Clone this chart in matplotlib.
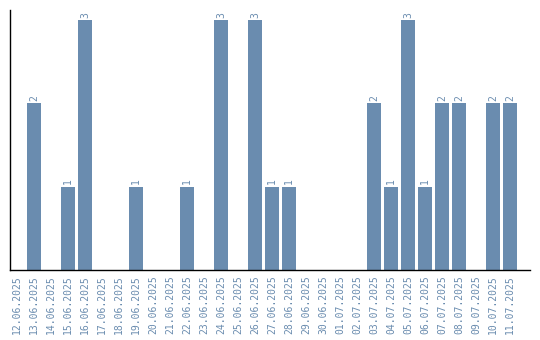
import matplotlib
matplotlib.use('Agg')
import matplotlib.pyplot as plt

# daily counts
dates = ['12.06.2025', '13.06.2025', '14.06.2025', '15.06.2025', '16.06.2025',
         '17.06.2025', '18.06.2025', '19.06.2025', '20.06.2025', '21.06.2025',
         '22.06.2025', '23.06.2025', '24.06.2025', '25.06.2025', '26.06.2025',
         '27.06.2025', '28.06.2025', '29.06.2025', '30.06.2025', '01.07.2025',
         '02.07.2025', '03.07.2025', '04.07.2025', '05.07.2025', '06.07.2025',
         '07.07.2025', '08.07.2025', '09.07.2025', '10.07.2025', '11.07.2025']
counts = [0, 2, 0, 1, 3, 0, 0, 1, 0, 0,
          1, 0, 3, 0, 3, 1, 1, 0, 0, 0,
          0, 2, 1, 3, 1, 2, 2, 0, 2, 2]

color = '#6a8caf'

fig = plt.figure(figsize=(5.4, 3.4), dpi=100)
ax = fig.add_axes([10/540, 70/340, 520/540, 260/340])

x = range(len(dates))
bars = ax.bar(x, counts, width=0.82, color=color)
for xi, c in zip(x, counts):
    if c > 0:
        ax.text(xi, c + 0.03, str(c), rotation=90, ha='center', va='bottom',
                fontsize=7, color=color, family='DejaVu Sans Mono')

ax.set_xlim(-0.41, 30.18)
ax.set_ylim(0, 3.12)
ax.set_xticks(list(x))
ax.set_xticklabels(dates, rotation=90, fontsize=7, color=color, family='DejaVu Sans Mono')
ax.set_yticks([])
ax.tick_params(axis='x', length=0, pad=4)
ax.spines['top'].set_visible(False)
ax.spines['right'].set_visible(False)
ax.spines['left'].set_linewidth(1)
ax.spines['bottom'].set_linewidth(1)

plt.savefig('out.png', dpi=100)
plt.close()
